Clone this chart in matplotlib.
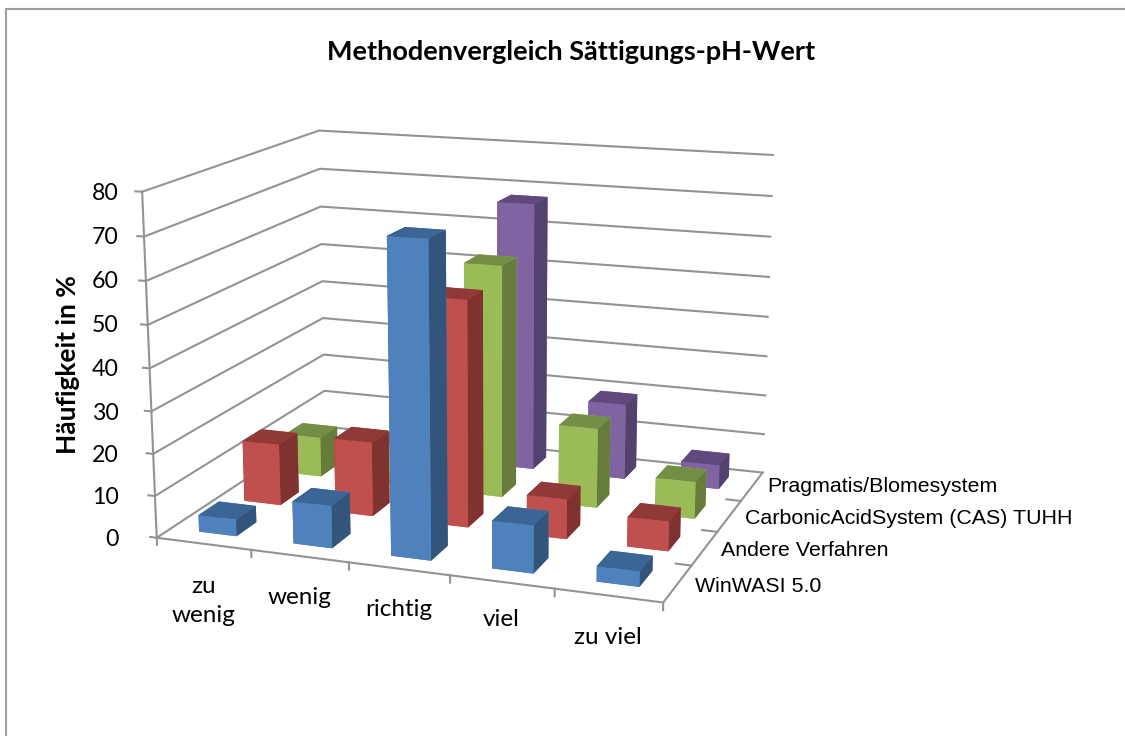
import numpy as np
import matplotlib
matplotlib.use('Agg')
from matplotlib import pyplot as plt
from matplotlib.patches import Rectangle

W, H = 1125, 736

# values (%)
categories = ['zu\nwenig', 'wenig', 'richtig', 'viel', 'zu viel']
series_names = ['WinWASI 5.0', 'Andere Verfahren', 'CarbonicAcidSystem (CAS) TUHH', 'Pragmatis/Blomesystem']
win_wasi = [4, 10, 72.5, 11, 3.5]
andere = [15, 18, 54, 9.5, 7]
cas = [10, 10, 57, 19.5, 9]
pragmatis = [0, 0, 67.5, 19, 6]
z_ticks = [0, 10, 20, 30, 40, 50, 60, 70, 80]

fig = plt.figure(figsize=(W / 100, H / 100), dpi=100)
ax = fig.add_subplot(projection='3d', computed_zorder=False)
ax.set_xlim(0, 5)
ax.set_ylim(0, 4)
ax.set_zlim(0, 80)
ax.set_axis_off()
ax.patch.set_visible(False)

# camera fitted to the box corners of the picture
ax.view_init(elev=14.295, azim=-69.745, roll=0.182)
ax.set_proj_type('persp', focal_length=0.551)
ax.set_box_aspect((1.491, 1.176, 1.0))
s, tx, ty = 3847.4, 472.8, 394.6
x0, x1 = ax.viewLim.intervalx
y0, y1 = ax.viewLim.intervaly
ax.set_position([(tx + s * x0) / W, (ty + s * y0) / H, s * (x1 - x0) / W, s * (y1 - y0) / H])

# walls, floor edges and ticks
grid = '#939393'
lw = 1.5
for z in z_ticks:
    ax.plot([0, 0, 5], [0, 4, 4], [z, z, z], color=grid, lw=lw, zorder=1)
    ax.plot([-0.07, 0], [0, 0], [z, z], color=grid, lw=lw, zorder=1)
ax.plot([0, 0], [0, 0], [0, 80], color=grid, lw=lw, zorder=1)
ax.plot([0, 5, 5], [0, 0, 4], [0, 0, 0], color=grid, lw=lw, zorder=1)
for i in range(6):
    ax.plot([i, i], [0, 0], [0, -1.7], color=grid, lw=lw, zorder=1)
for j in range(1, 4):
    ax.plot([5, 4.85], [j, j], [0, 0], color=grid, lw=lw, zorder=1)

# front, top, side colours per series
face_colors = [('#4f81bd', '#3a6595', '#33557c'),
               ('#c0504d', '#8f3a38', '#7f3230'),
               ('#9bbb59', '#758e45', '#677c3b'),
               ('#8064a2', '#60497c', '#54426e')]
all_series = [win_wasi, andere, cas, pragmatis]
gap = 0.3
width = 0.4
depth = 0.44
order = 10
for j in [3, 2, 1, 0]:
    front, top, side = face_colors[j]
    for i, v in enumerate(all_series[j]):
        if v == 0:
            continue
        # bottom, top, front, back, left, right
        ax.bar3d(i + gap, j + gap, 0, width, depth, v, color=[front, top, front, front, side, side],
                 shade=False, zorder=order, linewidth=0)
        order += 1

fig.patches.append(Rectangle((5.5 / W, -0.1), 1.2, 1.1 - 9.5 / H, transform=fig.transFigure,
                             fill=False, ec='#a0a0a0', lw=1.5))

def px_text(x, y, txt, **kw):
    fig.text(x / W, 1 - y / H, txt, **kw)

px_text(571, 52, 'Methodenvergleich Sättigungs-pH-Wert', family='Lato', weight='bold', fontsize=19.5, ha='center', va='center')
px_text(68, 365, 'Häufigkeit in %', family='Lato', weight='bold', fontsize=19, rotation=90, ha='center', va='center')
for z, y in zip(z_ticks, [540, 498, 456, 413, 369, 325, 281, 237, 193]):
    px_text(119, y, str(z), family='Lato', fontsize=16.7, ha='right', va='center')
for c, x, y in zip(categories, [204, 300, 399, 501, 608], [601, 597, 610, 620, 637]):
    px_text(x, y, c, family='Lato', fontsize=17.5, ha='center', va='center', linespacing=1.5)
for n, x, y in zip(series_names, [695, 721, 745, 767], [587, 550, 518, 487]):
    px_text(x, y, n, family='Liberation Sans', fontsize=15.4, ha='left', va='center')

fig.savefig('out.png', dpi=100)
